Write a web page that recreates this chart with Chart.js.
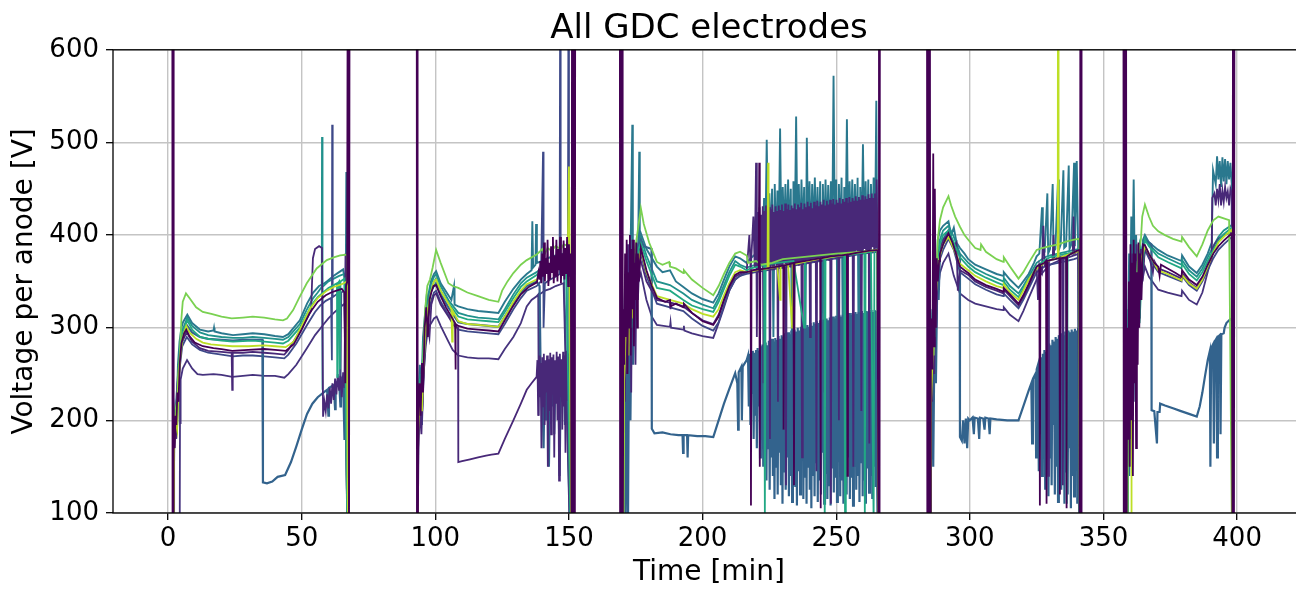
<!DOCTYPE html>
<html><head><meta charset="utf-8">
<script src="https://cdn.jsdelivr.net/npm/chart.js@4/dist/chart.umd.min.js"></script>
<style>html,body{margin:0;padding:0;background:#fff;overflow:hidden;width:1296px;height:590px}</style>
</head><body>
<canvas id="c" width="1320" height="590" style="width:1320px;height:590px;display:block"></canvas>
<script>
const TITLE = 'All GDC electrodes';
const X_LABEL = 'Time [min]';
const Y_LABEL = 'Voltage per anode [V]';
const X_TICKS = [0, 50, 100, 150, 200, 250, 300, 350, 400];
const Y_TICKS = [100, 200, 300, 400, 500, 600];
const X_RANGE = [-20.6, 425.4];
const Y_RANGE = [100, 600];

// each electrode: [time (min), voltage (V)]
const E1 = [
[-0.3,1000],[1.55,1000],[1.7,0],[1.85,1000],[2.0,0],[2.2,185],[2.5,170],[2.8,205],[3.1,195],[3.5,230],[3.9,220],[4.4,262],[5.0,283],[6.0,294],[6.8,298],[8,291],[10,284],[13,280],[17,278],[20,277],[24,275],[30,276],[36,277],[40,276],[44,275],[47,282],[50,298],[53,316],[56,328],[59,335],[61,338],[63,340],[65,342],[66,338],[66.3,240],[66.6,345],[67,350],[67.4,1000],[67.7,0],[68.0,1000],
[93.0,1000],[93.15,0],[93.3,1000],[93.45,0],[93.7,215],[94.1,240],[94.5,205],[95.0,262],[95.4,230],[96.0,300],[96.6,322],[97.2,290],[97.8,330],[98.5,338],[99.3,345],[100.3,346],[102,334],[104,322],[106,312],[107.4,305],[107.5,255],[107.7,304],[108.6,302],[112,299],[116,298],[120,297],[123.6,296],[126,308],[129,323],[132,336],[135,344],[138,349],
[138.6,360],[139.0,352],[139.3,372],[139.7,348],[140.0,380],[140.3,355],[140.7,392],[141.0,350],[141.3,375],[141.7,358],[142.0,395],[142.3,345],[142.7,370],[143.0,352],[143.3,388],[143.7,360],[144.0,398],[144.3,348],[144.7,378],[145.0,355],[145.3,395],[145.7,350],[146.0,385],[146.3,362],[146.7,398],[147.0,348],[147.3,380],[147.7,356],[148.0,394],[148.3,352],[148.7,386],[149.0,358],[149.3,398],[149.7,345],[150.0,390],[150.3,355],[150.7,380],[151.0,0],[151.2,1000],[151.6,0],[151.9,1000],[152.2,0],[152.4,1000],
[169.0,1000],[169.15,0],[169.4,1000],[169.6,0],[169.9,1000],[170.1,0],[170.4,320],[170.7,260],[171.0,380],[171.3,290],[171.6,395],[171.9,250],[172.2,360],[172.5,300],[172.8,400],[173.1,270],[173.4,385],[173.7,320],[174.0,395],[174.3,280],[174.6,370],[174.9,330],[175.2,392],[175.5,300],[175.8,380],[176.2,350],[176.9,386],
[179,362],[181,345],[183,332],[186,328],[187.8,330],[188,323],[190,326],[192.8,322],[193,326],[196,316],[200,307],[204,303],[206,312],[208,330],[210,345],[212.2,357],[214,360],[216.5,360],
[218,361],[218.1,108],[218.3,362],[221,363],[221.2,478],[221.4,150],[221.6,363],[224,364],[228,366],[230.2,367],[230.3,190],[230.5,367],[234,370],[234.2,130],[234.4,370],[238,372],[242,374],[244,375],[244.1,105],[244.3,375],[248,377],[252,378],[254,379],[254.2,140],[254.4,379],[258,381],[262,383],[265.5,384],[265.8,0],[266.0,1000],[266.2,0],[266.4,1000],
[283.9,1000],[284.1,0],[284.4,1000],[284.7,0],[285.0,1000],[285.2,0],[285.4,270],[285.7,310],[286.0,255],[286.3,488],[286.6,280],[286.9,450],[287.2,300],[287.6,375],[288.0,350],[288.5,372],[288.8,380],[290,390],[292,402],[293.5,392],[295,378],[296.3,366],[298,362],[299.4,359],[302,352],[306,346],[310,342],[312.5,339],[312.7,343],[315,336],[318.2,326],[320,335],[322,347],[324,360],[325,366],
[326,368],[326.2,108],[326.4,368],[328,370],[328.5,372],[328.7,110],[328.9,372],[330,373],[332,374],[333.5,375],[333.7,120],[333.9,375],[336,376],[336.2,105],[336.4,377],[338,380],[340,383],[341.0,384],[341.2,0],[341.4,1000],[341.6,0],[341.8,1000],
[357.4,1000],[357.6,0],[357.9,1000],[358.1,0],[358.4,1000],[358.6,0],[358.9,300],[359.2,180],[359.5,350],[359.8,150],[360.1,390],[360.4,200],[360.7,370],[361.0,140],[361.3,395],[361.6,240],[361.9,380],[362.2,170],[362.5,360],[362.8,260],[363.1,392],[363.4,300],[363.8,380],[364.2,330],[364.8,390],[365.5,389],[367,380],[369,370],[370.5,366],[371,356],[371.5,368],[374,364],[377,359],[379.2,355],[379.4,362],[382,352],[384.9,346],[387,355],[389,368],[391.1,380],[393,388],[395,394],[398,402],[398.3,0],[398.5,1000],[398.8,0],[399.1,1000],[405,1000]
];

const E2 = [
[2.0,0],[2.3,175],[2.8,200],[3.4,190],[4.0,245],[4.7,272],[5.5,290],[6.8,302],[8,295],[10.5,288],[13,284],[16,282],[20,281],[24,280],[30,280],[36,281],[40,280],[44,279],[47,285],[50,302],[53,320],[56,332],[59.4,340],[62,344],[65,347],[67,350],[67.4,0],
[93.3,0],[93.6,190],[94.3,230],[95,210],[95.6,260],[96.4,300],[97.2,320],[98.5,340],[99.5,350],[100.3,352],[102,340],[104.9,326],[106,320],[106.3,285],[106.5,318],[108.6,307],[112,304],[116,303],[120,302],[123.6,301],[126,312],[129.2,328],[132,340],[134.2,347],[137.9,352],[140,358],[143,365],[146,368],[148,372],[149.5,368],[150.0,474],[150.3,380],[151,0],
[170.2,0],[170.6,240],[171.5,310],[172.3,270],[173,340],[174,310],[175,365],[176.2,375],[176.9,384],[179,360],[182.9,334],[187.8,330],[192.8,326],[196,320],[200,315],[204,312],[206,320],[208,335],[210,348],[212.2,360],[214,362],[216.5,360],[220,362],[224.3,364],[224.5,478],[224.7,364],[228,366],[229,330],[229.2,366],[232,368],[233.5,300],[233.7,368],[238,371],[245,375],[252,378],[258,381],[265.5,384],[265.8,0],
[285.2,0],[285.5,220],[286.2,280],[287,320],[287.8,360],[288.8,378],[290,390],[292,398],[294,385],[296.3,369],[299.4,362],[302,356],[306,350],[310,345],[312.5,343],[312.7,347],[315,338],[318.2,330],[320,340],[322,352],[325,364],[328,370],[330,373],[332.9,375],[333.0,1000],[333.1,460],[333.3,375],[336,378],[339,381],[341,383],[341.2,0],
[358.9,0],[360.3,0],[360.5,200],[361,280],[361.8,330],[362.5,300],[363.3,360],[364.2,375],[365.5,388],[367,380],[370.5,362],[374,358],[379.2,351],[379.4,357],[382,348],[384.9,342],[387,352],[389,366],[391.1,381],[393,392],[395,398],[398,406],[398.3,0]
];

const E3 = [
[2.0,0],[2.3,185],[2.8,210],[3.3,200],[3.8,250],[4.4,270],[5.0,310],[5.5,328],[6.7,337],[8,332],[10.5,322],[13,317],[16.2,315],[20,312],[23.8,310],[28,311],[31.7,312],[36,311],[40,309],[43,308],[44.5,310],[46.8,319],[49,332],[51.9,348],[55.6,364],[59.4,373],[62,376],[64.4,378],[67,379],[67.4,0],
[93.3,0],[93.6,200],[94.2,240],[95,225],[95.5,270],[96.2,320],[97,345],[98,352],[99,365],[100.3,384],[102,370],[104.9,348],[106.5,345],[108.6,343],[112,338],[116,334],[120,330],[123.6,328],[125,340],[127,350],[129.2,359],[132,368],[134.2,373],[137.9,379],[139,382],[140,385],[141,380],[142,386],[143.5,383],[145,388],[147,385],[148,390],[150,388],[151,0],
[170.2,0],[170.6,250],[171.2,330],[172,290],[172.8,360],[173.5,330],[174.5,380],[175.5,400],[176.9,429],[178,412],[180,392],[182.9,371],[185,368],[187.5,371],[187.8,366],[190,364],[192.8,359],[193,362],[196,352],[200,343],[204,335],[206,345],[208,358],[210,370],[212.2,380],[214,382],[216.5,378],[217,370],[220,372],[222,368],[226,370],[230,374],[240,377],[250,380],[260,382],[265.5,384],[265.8,0],
[285.2,0],[285.5,250],[286,300],[286.5,270],[287,330],[287.5,360],[288,395],[288.8,416],[290,430],[292,442],[293,432],[294.5,420],[296.3,409],[298,400],[299.4,395],[302,386],[304,384],[304.2,390],[306,382],[310,374],[312.5,371],[312.7,376],[315,366],[318.2,353],[320,360],[322,370],[325,384],[327,386],[330,388],[333,390],[336,393],[339,395],[341,396],[341.2,0],
[358.9,0],[359.3,250],[360,330],[360.6,300],[361.5,360],[362.3,340],[363,380],[364,395],[364.5,420],[365.5,433],[367,420],[368.5,410],[370.5,404],[373,400],[376,396],[379.2,393],[379.4,398],[382,387],[384.9,377],[387,390],[389,405],[391.1,416],[393,420],[395,418],[397,416],[398.3,0]
];

const E4 = [
[2.0,0],[2.2,195],[2.7,215],[3.2,205],[3.7,260],[4.3,285],[5.0,300],[5.6,306],[7.2,314],[9,305],[11.9,298],[15,296],[17,297],[17.2,300],[17.4,296],[20,294],[24.3,292],[28,293],[31.7,294],[36,293],[40,291],[43,290],[45,293],[49.3,308],[52,326],[54.3,338],[56.5,345],[58.5,348],[59.4,350],[62,356],[64,360],[65.5,363],[66.5,345],[66.7,468],[66.9,366],[67.4,0],
[93.3,0],[93.6,220],[94.2,260],[94.8,235],[95.4,290],[96,310],[96.8,335],[97.5,325],[98.3,350],[99.5,358],[100.3,361],[102,348],[104.9,335],[106,330],[107,345],[107.2,325],[108.6,323],[112,320],[116,318],[120,317],[123.6,316],[126,328],[129.2,342],[132,352],[134.2,358],[136,362],[136.3,415],[136.6,365],[137.5,368],[137.7,412],[138,370],[140,372],[142,375],[145,378],[148,380],[151,0],
[170.2,0],[170.5,280],[171,350],[171.5,300],[172,380],[172.6,330],[173.2,410],[173.7,519],[173.9,340],[174.5,370],[175.3,330],[175.9,390],[176.3,490],[176.5,380],[176.9,402],[179,385],[182.9,366],[185,360],[187.8,362],[190,350],[192.8,344],[196,337],[200,331],[204,327],[206,337],[208,352],[210,366],[212.2,377],[214,375],[216.5,370],[218,375],[220,380],[221,372],[222,400],
[222.5,385],[223,440],[223.5,395],[224,503],[224.5,390],[225,445],[225.5,385],[226,450],[226.5,290],[227,455],[227.5,380],[228,448],[228.5,392],[229,515],[229.5,385],[230,452],[230.5,398],[231,455],[231.5,388],[232,460],[232.5,395],[233,450],[233.5,250],[234,458],[234.5,400],[235,528],[235.5,390],[236,455],[236.5,385],[237,460],[237.5,398],[238,452],[238.5,300],[239,505],[239.5,392],[240,458],[240.5,385],[241,455],[241.5,398],[242,462],[242.5,390],[243,452],[243.5,384],[244,458],[244.5,230],[245,455],[245.5,388],[246,460],[246.5,392],[247,454],[247.5,386],[248,458],[248.5,395],[249,572],[249.5,390],[250,460],[250.5,285],[251,455],[251.5,398],[252,462],[252.5,270],[253,452],[253.5,392],[254,525],[254.5,384],[255,458],[255.5,396],[256,460],[256.5,390],[257,455],[257.5,386],[258,462],[258.5,215],[259,452],[259.5,388],[260,498],[260.5,392],[261,458],[261.5,385],[262,460],[262.5,320],[263,455],[263.5,388],[264,462],[264.5,390],[265,545],[265.3,400],[265.8,0],
[285.2,0],[285.5,260],[286,320],[286.5,290],[287,350],[287.5,330],[288,395],[288.8,405],[290,410],[292,415],[293,400],[294,408],[295,392],[296.3,386],[298,380],[299.4,374],[302,368],[306,363],[310,358],[312.5,356],[312.7,360],[315,352],[318.2,343],[320,350],[322,358],[324,370],[325,377],[326,380],[327,430],[327.3,378],[328,382],[329,445],[329.3,380],[330,385],[331,455],[331.3,382],[332,385],[333,460],[333.3,384],[334,390],[335,470],[335.3,386],[336,388],[337,475],[337.3,385],[338,390],[339,478],[339.3,388],[340,480],[340.5,390],[341,0],
[358.9,0],[359.2,300],[359.6,380],[360,330],[360.4,420],[360.8,350],[361.3,460],[361.7,360],[362.2,400],[362.8,340],[363.4,385],[364,370],[364.8,395],[365.5,400],[367,392],[370.5,384],[374,378],[379.2,372],[379.4,378],[382,366],[384.9,359],[387,368],[389,380],[390.5,392],[391,470],[392,455],[392.5,485],[393,460],[393.5,480],[394,452],[394.5,484],[395,458],[395.5,482],[396,455],[396.5,480],[397,460],[397.5,478],[398,455],[398.3,0]
];

const E5 = [
[2.0,0],[2.3,180],[2.9,200],[3.4,195],[4.0,250],[4.6,275],[5.3,292],[7.2,308],[9,298],[11.9,290],[15,288],[20,286],[24.3,285],[31.7,286],[36,285],[40,284],[43,283],[45,286],[49.3,300],[52,315],[54.3,327],[56,333],[60,343],[62,346],[63.2,348],[63.3,247],[63.5,348],[64,350],[64.3,255],[64.5,350],[66,353],[67.4,0],
[93.3,0],[93.6,205],[94.2,245],[94.9,228],[95.5,280],[96.3,300],[97.2,325],[98.3,340],[99.5,350],[100.3,353],[102,340],[104.9,327],[108.6,312],[112,309],[116,308],[120,307],[123.6,306],[126,317],[129.2,332],[132,344],[134.2,350],[137.9,357],[140,362],[143,366],[146,369],[149,371],[151,0],
[170.2,0],[170.6,270],[171.3,330],[172,280],[172.7,360],[173.4,300],[174.2,370],[175,340],[176,385],[176.9,391],[179,372],[182.9,343],[187.8,340],[192.8,330],[196,324],[200,320],[204,317],[206,328],[208,342],[210,356],[212.2,368],[214,366],[216.5,362],[218,364],[221,366],[223,368],[223.3,100],[223.6,368],[228,370],[234,372],[238,300],[238.3,372],[242,374],[245.5,375],[245.7,90],[246,375],[250,377],[253,378],[253.3,95],[253.6,378],[258,380],[260.5,381],[260.7,100],[261,381],[263,382],[264,90],[264.3,383],[265.5,384],[265.8,0],
[285.2,0],[285.6,270],[286.2,320],[286.9,290],[287.6,360],[288.8,390],[290,400],[292,405],[294,392],[296.3,376],[299.4,366],[302,360],[306,354],[310,349],[312.5,346],[312.7,350],[315,341],[318.2,333],[320,342],[322,352],[325,366],[328,373],[330,376],[333,378],[336,380],[336.3,110],[336.6,380],[339,382],[341,383],[341.2,0],
[358.9,0],[359.3,280],[359.9,340],[360.6,300],[361.3,370],[362,330],[362.8,372],[363.5,305],[364.2,350],[365.5,395],[367,388],[370.5,376],[374,371],[379.2,364],[379.4,369],[382,358],[384.9,351],[387,360],[389,372],[391.1,384],[393,394],[395,401],[398,408],[398.3,0]
];

const E6 = [
[2.0,0],[2.3,190],[2.8,205],[3.3,198],[3.9,255],[4.5,280],[5.2,296],[7.2,311],[9,302],[11.9,295],[15,292],[20,290],[24.3,289],[28,289],[31.7,290],[36,289],[40,288],[43,287],[45,290],[49.3,304],[52,320],[54.3,332],[56,338],[57.5,344],[57.6,506],[57.7,233],[57.9,344],[60,350],[62,353],[64,356],[66,358],[67.4,0],
[93.3,0],[93.6,215],[94.3,250],[95,230],[95.5,285],[96.2,305],[97,330],[98,345],[99.5,355],[100.3,358],[102,345],[104.9,330],[108.6,316],[112,313],[116,311],[120,310],[123.6,309],[126,320],[129.2,336],[132,348],[134.2,354],[137.9,360],[140,365],[143,368],[146,370],[149,372],[151,0],
[170.2,0],[170.6,300],[171.2,260],[171.8,340],[172.4,290],[173,370],[173.6,320],[174.3,380],[175,350],[176,390],[176.9,397],[179,378],[182.9,350],[187.8,346],[192.8,337],[196,330],[200,325],[204,321],[206,332],[208,346],[210,360],[212.2,372],[214,368],[216.5,365],[220,368],[224,370],[230,372],[240,376],[250,379],[260,382],[265.5,384],[265.8,0],
[285.2,0],[285.6,280],[286.3,330],[287,300],[287.7,370],[288.8,395],[290,405],[292,410],[294,398],[296.3,380],[299.4,370],[302,364],[306,358],[310,353],[312.5,350],[312.7,354],[315,345],[318.2,337],[320,345],[322,355],[325,370],[328,376],[330,378],[333,380],[336,382],[339,384],[341,385],[341.2,0],
[358.9,0],[359.3,320],[360,280],[360.7,350],[361.4,310],[362.1,380],[362.9,330],[363.6,390],[364.5,380],[365.5,397],[367,390],[370.5,380],[374,375],[379.2,368],[379.4,373],[382,362],[384.9,355],[387,364],[389,376],[391.1,388],[393,398],[395,405],[398,411],[398.3,0]
];

const E7 = [
[4.3,0],[4.5,244],[4.6,196],[4.8,244],[5.5,256],[7.1,265],[9,256],[11,250],[13,249],[17,250],[20,249],[24,247],[28,248],[31.7,249],[36,248],[40,248],[43.5,246],[45,250],[48,260],[52,278],[55,292],[58,303],[60,310],[62,316],[64,321],[66,326],[67.4,0],
[93.3,0],[93.6,190],[94.3,230],[95,205],[95.6,250],[96.4,280],[97.3,300],[98.5,305],[99.5,310],[100.5,312],[102,302],[104.9,285],[106.5,276],[108.6,270],[112,268],[116,267],[120,267],[123.6,266],[126,277],[129.2,290],[132,305],[134.2,323],[136,330],[137.9,334],[138.5,336],[138.7,205],[139,336],[141,340],[143,342],[145,345],[148,348],[151,0],
[170.2,0],[170.6,250],[171.4,300],[172.2,270],[173,320],[174,290],[175,335],[176,350],[176.9,359],[179,330],[181,312],[182.9,303],[187.8,301],[188,306],[188.2,300],[192.8,298],[193,302],[193.2,297],[196,294],[200,291],[204,289],[206,305],[208,322],[210,340],[212.2,352],[214,356],[216.5,360],[220,362],[224,364],[230,367],[240,371],[250,376],[260,381],[265.5,383],[265.8,0],
[285.2,0],[285.6,250],[286.3,300],[287,270],[287.7,330],[288.8,359],[290,370],[292,380],[294,356],[296.3,337],[299.4,330],[302,326],[306,323],[310,320],[312.5,319],[312.7,322],[315,314],[318.2,307],[320,318],[322,332],[325,352],[328,362],[330,368],[333,372],[336,375],[339,378],[341,380],[341.2,0],
[358.9,0],[359.3,250],[360,300],[360.8,270],[361.6,320],[362.5,290],[363.4,340],[364.5,350],[365.5,366],[367,355],[370.5,341],[374,338],[379.2,334],[379.4,340],[382,330],[384.9,325],[387,338],[389,360],[390.5,378],[391.5,390],[393,396],[395,400],[398,403],[398.3,0]
];

const E8 = [
[2.0,0],[2.2,200],[2.7,190],[3.2,225],[3.8,250],[4.5,270],[5.3,285],[7.2,302],[9,295],[11.9,290],[15,288],[20,287],[24.3,286],[28,287],[31.7,287],[35.3,287],[35.5,133],[37,132],[39,134],[41,139],[43.8,141],[46,155],[48,172],[50,190],[52,207],[54,218],[56,225],[58.6,231],[59.5,233],[60,205],[60.2,235],[62,238],[62.5,212],[62.7,240],[64,243],[64.5,215],[64.7,245],[65.5,247],[66,180],[66.2,248],[67,250],[67.4,0],
[93.3,0],[93.6,200],[94.2,235],[94.8,195],[95.4,255],[96.2,295],[97,320],[98,338],[99.5,345],[100.3,348],[102,336],[104.9,322],[108.6,306],[112,304],[116,303],[120,302],[123.6,301],[126,312],[129.2,327],[132,338],[134.2,345],[137.9,350],[139,345],[139.5,230],[140,240],[140.5,170],[141,260],[141.5,200],[142,255],[142.5,150],[143,262],[143.5,215],[144,265],[144.5,185],[145,258],[145.5,230],[146,268],[146.5,140],[147,262],[147.5,220],[148,270],[148.5,195],[149,265],[149.5,235],[150,272],[150.5,205],[151,0],
[170.2,0],[170.4,150],[170.8,260],[171.2,100],[171.6,280],[172.1,90],[172.5,300],[173,200],[173.5,350],[174,260],[174.6,380],[175.2,330],[176,390],[176.9,395],[178,388],[180.9,385],[181,191],[182,186],[185,187],[188,185],[191,184],[192.5,184],[192.7,165],[192.9,184],[194.2,184],[194.4,160],[194.6,184],[198,183],[201,183],[204,182],[206,200],[208,218],[210,234],[212.2,251],[213,240],[213.3,190],[213.5,252],[214.5,258],[214.7,200],[215,258],[216.5,265],
[217.0,270],[217.3,215],[217.6,272],[217.9,195],[218.2,268],[218.5,230],[218.8,275],[219.1,180],[219.4,273],[219.7,205],[220.0,276],[220.3,170],[220.6,278],[220.9,215],[221.2,275],[221.5,160],[221.8,280],[222.1,190],[222.4,282],[222.7,150],[223.0,279],[223.3,175],[223.6,284],[223.9,135],[224.2,281],[224.5,170],[224.8,286],[225.1,125],[225.4,283],[225.7,160],[226.0,288],[226.3,140],[226.6,285],[226.9,115],[227.2,289],[227.5,150],[227.8,287],[228.1,120],[228.4,291],[228.7,165],[229.0,288],[229.3,130],[229.6,292],[229.9,110],[230.2,290],[230.5,145],[230.8,294],[231.1,125],[231.4,291],[231.7,160],[232.0,295],[232.3,118],[232.6,293],[232.9,140],[233.2,297],[233.5,112],[233.8,294],[234.1,150],[234.4,298],[234.7,128],[235.0,296],[235.3,108],[235.6,300],[235.9,145],[236.2,297],[236.5,120],[236.8,301],[237.1,160],[237.4,298],[237.7,115],[238.0,302],[238.3,138],[238.6,300],[238.9,110],[239.2,303],[239.5,150],[239.8,301],[240.1,125],[240.4,305],[240.7,105],[241.0,302],[241.3,140],[241.6,306],[241.9,118],[242.2,304],[242.5,155],[242.8,307],[243.1,112],[243.4,305],[243.7,135],[244.0,308],[244.3,120],[244.6,306],[244.9,165],[245.2,309],[245.5,110],[245.8,307],[246.1,142],[246.4,310],[246.7,115],[247.0,308],[247.3,130],[247.6,311],[247.9,108],[248.2,309],[248.5,148],[248.8,312],[249.1,122],[249.4,310],[249.7,138],[250.0,313],[250.3,112],[250.6,311],[250.9,155],[251.2,314],[251.5,118],[251.8,312],[252.1,135],[252.4,314],[252.7,110],[253.0,313],[253.3,145],[253.6,315],[253.9,120],[254.2,313],[254.5,160],[254.8,316],[255.1,115],[255.4,314],[255.7,138],[256.0,316],[256.3,108],[256.6,315],[256.9,150],[257.2,317],[257.5,125],[257.8,315],[258.1,140],[258.4,317],[258.7,112],[259.0,316],[259.3,155],[259.6,318],[259.9,118],[260.2,316],[260.5,135],[260.8,318],[261.1,110],[261.4,317],[261.7,148],[262.0,318],[262.3,122],[262.6,317],[262.9,140],[263.2,319],[263.5,115],[263.8,317],[264.1,150],[264.4,319],[264.7,128],[265.0,318],[265.3,140],[265.8,0],
[285.2,0],[285.5,200],[285.9,270],[286.3,150],[286.8,300],[287.3,240],[287.8,350],[288.3,330],[288.8,380],[290,395],[292,405],[294,390],[296.2,378],[296.3,182],[297,178],[297.5,200],[298,175],[298.5,202],[299,170],[299.4,202],[300,200],[301,203],[301.5,185],[301.8,203],[303,202],[303.5,180],[303.8,203],[305,202],[305.5,190],[305.8,203],[307,202],[307.4,185],[307.7,202],[310,201],[314,200],[318.2,200],[320,215],[322,232],[323,240],[323.3,175],[323.6,245],[324.5,250],[324.8,160],[325,255],[325.5,260],[325.8,145],
[326.1,265],[326.4,185],[326.7,268],[327.0,140],[327.3,272],[327.6,200],[327.9,276],[328.2,125],[328.5,274],[328.8,170],[329.1,279],[329.4,118],[329.7,283],[330.0,160],[330.3,281],[330.6,130],[330.9,287],[331.2,195],[331.5,285],[331.8,120],[332.1,290],[332.4,150],[332.7,288],[333.0,112],[333.3,292],[333.6,175],[333.9,290],[334.2,125],[334.5,294],[334.8,160],[335.1,292],[335.4,110],[335.7,296],[336.0,145],[336.3,294],[336.6,120],[336.9,297],[337.2,170],[337.5,295],[337.8,105],[338.1,298],[338.4,140],[338.7,296],[339.0,118],[339.3,299],[339.6,155],[339.9,297],[340.2,110],[340.5,300],[340.8,130],[341.2,0],
[358.9,0],[359.2,200],[359.6,140],[360,260],[360.4,180],[360.8,300],[361.2,220],[361.6,340],[362,260],[362.5,360],[363,300],[363.6,380],[364.3,350],[365,390],[365.5,395],[367,392],[367.9,390],[368.0,211],[369,210],[370,175],[370.2,209],[371,209],[371.2,218],[373,216],[376,213],[379,210],[382,207],[384.9,204],[386,215],[387,230],[388,248],[389,265],[389.8,275],[390,150],[390.3,278],[391,282],[391.3,175],[391.6,285],[392.2,288],[392.5,160],[392.8,290],[393.5,292],[393.8,185],[394.1,293],[395,294],[395.3,300],[396,305],[397,308],[398,310],[398.2,196],[398.3,0]
];

const E9 = [
[2.0,0],[2.3,170],[2.8,195],[3.3,185],[3.9,235],[4.5,260],[5.3,280],[7.0,290],[9,282],[11.9,276],[15,273],[20,271],[24.3,269],[28,270],[31.7,270],[36,269],[40,268],[43.5,267],[45,271],[48,283],[52,303],[55,317],[57,324],[59,329],[61,332],[61.3,265],[61.4,519],[61.6,333],[63,336],[64,338],[64.5,220],[64.8,338],[66,340],[67.4,0],
[93.3,0],[93.6,180],[94.3,225],[95,195],[95.6,245],[96.4,290],[97.2,310],[98.5,330],[99.5,338],[100.3,340],[102,328],[104.9,314],[108.6,298],[112,296],[116,295],[120,294],[123.6,293],[126,304],[129.2,320],[132,332],[134.2,340],[137.9,345],[139.5,350],[140.3,490],[140.5,300],[141,348],[143,352],[145,355],[146.5,358],[146.7,650],[146.9,360],[148,360],[149.6,362],[149.8,650],[150,365],[151,0],
[170.2,0],[170.6,230],[171.3,320],[172,260],[172.8,350],[173.5,280],[174.3,370],[175.2,320],[176.2,375],[176.9,380],[179,356],[182.9,326],[187.8,322],[192.8,318],[196,310],[200,302],[204,297],[206,306],[208,324],[210,340],[212.2,352],[214,356],[216.5,358],[220,360],[230,365],[240,370],[250,375],[260,380],[265.5,382],[265.8,0],
[285.2,0],[285.6,240],[286.3,300],[287,260],[287.7,350],[288.8,374],[290,384],[292,396],[294,384],[296.3,360],[299.4,353],[302,347],[306,341],[310,336],[312.5,334],[312.7,337],[315,330],[318.2,321],[320,330],[322,342],[325,360],[328,366],[330,368],[333,370],[336,372],[339,374],[341,376],[341.2,0],
[358.9,0],[359.3,230],[360,320],[360.7,260],[361.5,350],[362.3,290],[363.2,370],[364.2,350],[365.5,384],[367,375],[370.5,360],[374,356],[379.2,350],[379.4,356],[382,346],[384.9,340],[387,350],[389,362],[391.1,375],[393,384],[395,390],[398,398],[398.3,0]
];

const E10 = [
[2.0,0],[2.2,175],[2.7,200],[3.1,180],[3.6,240],[4.3,265],[5.2,285],[7.0,295],[9,285],[11.9,278],[15,275],[20,274],[23.8,273],[24.0,233],[24.2,273],[28,273],[31.7,274],[36,273],[40,272],[43.5,271],[45,276],[48,290],[51,305],[53.5,318],[54.2,375],[55,385],[56.5,388],[57.6,386],[58.0,204],[58.5,220],[59,210],[59.5,228],[60,213],[60.5,235],[61,218],[61.5,240],[62,222],[62.5,245],[63,228],[63.5,250],[64,232],[64.5,248],[65,225],[65.5,252],[66,235],[66.4,380],[66.6,240],[67,255],[67.4,0],
[93.3,0],[93.6,170],[94.2,210],[94.8,185],[95.4,240],[96.2,285],[97,305],[97.8,290],[98.5,325],[99.5,335],[100.3,337],[102,325],[104.9,312],[107,302],[108.5,300],[108.6,155],[110,156],[113,158],[116,160],[119,162],[121,163],[123.6,164],[126,180],[129.2,200],[132,218],[134.2,233],[136,240],[137.9,247],
[138.2,265],[138.5,205],[138.8,270],[139.1,225],[139.4,262],[139.7,170],[140.0,268],[140.3,215],[140.6,272],[140.9,195],[141.2,265],[141.5,230],[141.8,270],[142.1,150],[142.4,266],[142.7,210],[143.0,273],[143.3,185],[143.6,268],[143.9,228],[144.2,271],[144.5,160],[144.8,265],[145.1,218],[145.4,274],[145.7,200],[146.0,269],[146.3,135],[146.6,272],[146.9,225],[147.2,266],[147.5,190],[147.8,274],[148.1,215],[148.4,270],[148.7,165],[149.0,275],[149.3,222],[149.6,268],[149.9,195],[150.2,272],[150.5,240],[151,0],
[170.2,0],[170.5,300],[170.9,220],[171.3,360],[171.7,250],[172.1,390],[172.5,280],[172.9,370],[173.3,230],[173.7,395],[174.1,300],[174.5,385],[174.9,260],[175.3,380],[175.8,330],[176.4,375],[176.9,372],[179,350],[182.9,330],[187.8,327],[188,320],[188.2,327],[192.8,323],[196,316],[200,308],[204,304],[206,314],[208,330],[210,344],[212.2,355],[214,358],[216.5,361],[217.5,400],[218,362],[219,420],[219.5,365],[220,478],[220.3,290],
[220.7,425],[221.0,365],[221.3,430],[221.6,362],[221.9,422],[222.2,368],[222.5,431],[222.8,240],[223.1,426],[223.4,364],[223.7,432],[224.0,366],[224.3,424],[224.6,362],[224.9,430],[225.2,180],[225.5,428],[225.8,367],[226.1,433],[226.4,363],[226.7,425],[227.0,369],[227.3,431],[227.6,365],[227.9,426],[228.2,220],[228.5,432],[228.8,366],[229.1,427],[229.4,368],[229.7,433],[230.0,364],[230.3,426],[230.6,370],[230.9,434],[231.2,130],[231.5,428],[231.8,366],[232.1,433],[232.4,369],[232.7,427],[233.0,365],[233.3,432],[233.6,371],[233.9,429],[234.2,250],[234.5,434],[234.8,368],[235.1,428],[235.4,372],[235.7,433],[236.0,367],[236.3,430],[236.6,370],[236.9,435],[237.2,160],[237.5,428],[237.8,372],[238.1,434],[238.4,368],[238.7,430],[239.0,373],[239.3,436],[239.6,369],[239.9,431],[240.2,290],[240.5,435],[240.8,371],[241.1,429],[241.4,374],[241.7,436],[242.0,370],[242.3,432],[242.6,145],[242.9,437],[243.2,373],[243.5,431],[243.8,375],[244.1,436],[244.4,371],[244.7,433],[245.0,376],[245.3,438],[245.6,230],[245.9,432],[246.2,374],[246.5,437],[246.8,377],[247.1,433],[247.4,372],[247.7,438],[248.0,110],[248.3,434],[248.6,376],[248.9,439],[249.2,378],[249.5,433],[249.8,374],[250.1,438],[250.4,379],[250.7,435],[251.0,200],[251.3,440],[251.6,377],[251.9,434],[252.2,380],[252.5,439],[252.8,376],[253.1,436],[253.4,381],[253.7,440],[254.0,270],[254.3,435],[254.6,379],[254.9,441],[255.2,382],[255.5,436],[255.8,378],[256.1,440],[256.4,150],[256.7,437],[257.0,381],[257.3,442],[257.6,383],[257.9,437],[258.2,380],[258.5,441],[258.8,384],[259.1,438],[259.4,210],[259.7,443],[260.0,382],[260.3,438],[260.6,385],[260.9,442],[261.2,381],[261.5,439],[261.8,386],[262.1,444],[262.4,175],[262.7,440],[263.0,384],[263.3,445],[263.6,387],[263.9,440],[264.2,383],[264.5,445],[264.8,386],[265.1,460],[265.5,384],[265.8,0],
[285.2,0],[285.5,280],[285.9,220],[286.3,330],[286.7,250],[287.1,370],[287.5,300],[288,380],[288.8,385],[290,395],[292,400],[294,388],[295,392],[295.5,340],[296.3,362],[299.4,357],[302,350],[306,344],[310,340],[312.5,337],[312.7,341],[315,334],[318.2,324],[320,333],[322,345],[324,358],[325,364],[325.5,330],[326,368],[327,360],[327.5,410],[328,368],[329,372],[329.3,140],[329.6,372],[331,374],[331.3,400],[331.6,374],[333,376],[334.5,377],[334.8,130],[335.1,377],[337,379],[338.5,380],[338.8,420],[339.1,380],[340.5,383],[341.2,0],
[358.9,0],[359.2,260],[359.6,200],[360,330],[360.4,240],[360.8,380],[361.2,280],[361.6,360],[362,220],[362.4,390],[362.8,300],[363.2,370],[363.6,310],[364,385],[364.6,350],[365.5,386],[367,378],[368.5,360],[369,372],[370.5,364],[374,360],[379.2,353],[379.4,359],[382,349],[384.9,343],[387,352],[389,365],[390.5,374],[390.7,440],[391.5,445],[392,432],[392.5,450],[393,438],[393.5,455],[394,432],[394.5,448],[395,436],[395.5,452],[396,440],[396.5,447],[397,432],[397.5,450],[398,445],[398.3,0]
];

// drawing order: first entry is painted on top
const SERIES = [E1, E2, E3, E5, E10, E8, E9, E7, E6, E4];
const NAMES = ['E1', 'E2', 'E3', 'E5', 'E10', 'E8', 'E9', 'E7', 'E6', 'E4'];
const COLORS = ['#440154', '#bddf26', '#7ad151', '#22a884', '#482878', '#33638d', '#3e4989', '#46337e', '#21918c', '#2a788e'];
const WIDTHS = [1.8, 1.8, 1.8, 1.8, 1.8, 2.2, 1.8, 1.8, 1.8, 1.9];

const FONT = 'DejaVu Sans';

const framePlugin = {
  id: 'frame',
  afterDatasetsDraw(chart) {
    const {ctx, chartArea: a} = chart;
    ctx.save();
    ctx.strokeStyle = '#000';
    ctx.lineWidth = 1.3;
    ctx.strokeRect(a.left, a.top, a.right - a.left, a.bottom - a.top);
    ctx.restore();
  }
};

new Chart(document.getElementById('c'), {
  type: 'line',
  data: {
    datasets: SERIES.map((s, i) => ({
      label: NAMES[i],
      data: s.map(p => ({x: p[0], y: p[1]})),
      borderColor: COLORS[i],
      backgroundColor: COLORS[i],
      borderWidth: WIDTHS[i],
      pointRadius: 0,
      tension: 0,
      fill: false,
      clip: 0
    }))
  },
  options: {
    responsive: false,
    animation: false,
    devicePixelRatio: 1,
    layout: {padding: {left: 0, right: 15, top: 0, bottom: 0}},
    plugins: {
      legend: {display: false},
      tooltip: {enabled: false},
      title: {
        display: true, text: TITLE, color: '#000', fullSize: false,
        font: {family: FONT, size: 34, weight: 'normal', lineHeight: 1.2},
        padding: {top: 9, bottom: 0}
      }
    },
    scales: {
      x: {
        type: 'linear', min: X_RANGE[0], max: X_RANGE[1],
        afterBuildTicks: s => { s.ticks = X_TICKS.map(v => ({value: v})); },
        afterFit: s => { s.height = 77; },
        ticks: {color: '#000', font: {family: FONT, size: 26}, padding: 4, maxRotation: 0, autoSkip: false},
        grid: {color: '#c4c4c4', lineWidth: 1.4, tickColor: '#000', tickLength: 7, tickWidth: 1.3, drawTicks: true},
        border: {display: false},
        title: {display: true, text: X_LABEL, color: '#000', font: {family: FONT, size: 28}, padding: {top: 0, bottom: 0}}
      },
      y: {
        type: 'linear', min: Y_RANGE[0], max: Y_RANGE[1],
        afterBuildTicks: s => { s.ticks = Y_TICKS.map(v => ({value: v})); },
        afterFit: s => { s.width = 113; },
        ticks: {color: '#000', font: {family: FONT, size: 26}, padding: 7, autoSkip: false},
        grid: {color: '#c4c4c4', lineWidth: 1.4, tickColor: '#000', tickLength: 7, tickWidth: 1.3, drawTicks: true},
        border: {display: false},
        title: {display: true, text: Y_LABEL, color: '#000', font: {family: FONT, size: 28}, padding: {top: 8, bottom: 0}}
      }
    }
  },
  plugins: [framePlugin]
});
</script>
</body></html>
